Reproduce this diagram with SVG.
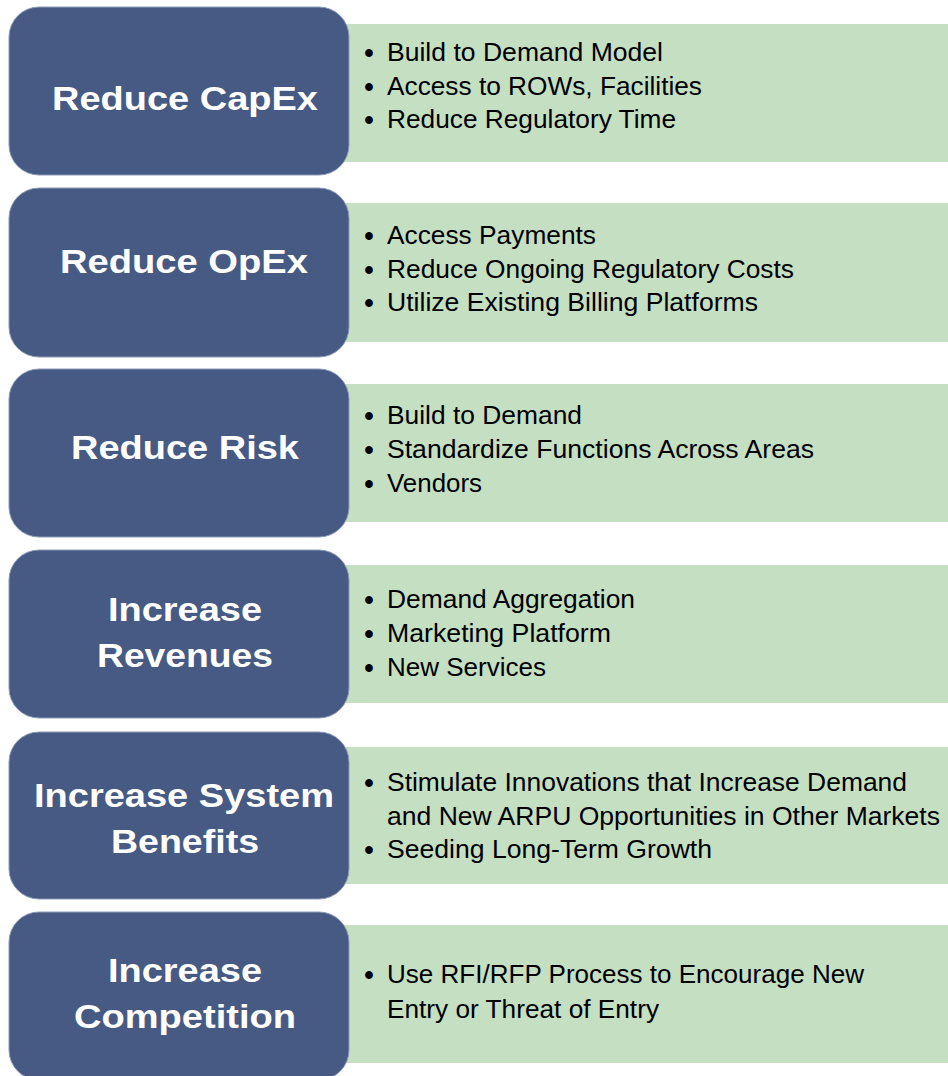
<svg xmlns="http://www.w3.org/2000/svg" width="948" height="1076" viewBox="0 0 948 1076">
<style>
.g{fill:#C5DFC3}
.b{fill:#465A83;stroke:#8D9BB8;stroke-width:1}
.t{font-family:"Liberation Sans",Arial,Helvetica,sans-serif;font-weight:bold;font-size:34px;fill:#FFFFFF;text-anchor:middle}
.l{font-family:"Liberation Sans",Arial,Helvetica,sans-serif;font-size:25px;fill:#000000}
.d{font-family:"Liberation Sans",Arial,Helvetica,sans-serif;font-size:27px;font-weight:bold;fill:#000000;text-anchor:middle}
</style>
<rect width="948" height="1076" fill="#FFFFFF"/>
<g id="row1">
<rect class="g" x="340" y="24" width="608" height="138"/>
<rect class="b" x="9" y="7" width="340" height="168" rx="30"/>
<text class="t" x="185" y="110" textLength="266" lengthAdjust="spacingAndGlyphs">Reduce CapEx</text>
<text class="d" x="369" y="62">•</text><text class="l" x="387" y="61" textLength="276" lengthAdjust="spacingAndGlyphs">Build to Demand Model</text>
<text class="d" x="369" y="96">•</text><text class="l" x="387" y="95" textLength="315" lengthAdjust="spacingAndGlyphs">Access to ROWs, Facilities</text>
<text class="d" x="369" y="129">•</text><text class="l" x="387" y="128" textLength="289" lengthAdjust="spacingAndGlyphs">Reduce Regulatory Time</text>
</g>
<g id="row2">
<rect class="g" x="340" y="203" width="608" height="139"/>
<rect class="b" x="9" y="188" width="340" height="169" rx="30"/>
<text class="t" x="184" y="273" textLength="248" lengthAdjust="spacingAndGlyphs">Reduce OpEx</text>
<text class="d" x="369" y="245">•</text><text class="l" x="387" y="244" textLength="209" lengthAdjust="spacingAndGlyphs">Access Payments</text>
<text class="d" x="369" y="279">•</text><text class="l" x="387" y="278" textLength="407" lengthAdjust="spacingAndGlyphs">Reduce Ongoing Regulatory Costs</text>
<text class="d" x="369" y="312">•</text><text class="l" x="387" y="311" textLength="371" lengthAdjust="spacingAndGlyphs">Utilize Existing Billing Platforms</text>
</g>
<g id="row3">
<rect class="g" x="340" y="384" width="608" height="138"/>
<rect class="b" x="9" y="369" width="340" height="168" rx="30"/>
<text class="t" x="185" y="459" textLength="228" lengthAdjust="spacingAndGlyphs">Reduce Risk</text>
<text class="d" x="369" y="425">•</text><text class="l" x="387" y="424" textLength="195" lengthAdjust="spacingAndGlyphs">Build to Demand</text>
<text class="d" x="369" y="459">•</text><text class="l" x="387" y="458" textLength="427" lengthAdjust="spacingAndGlyphs">Standardize Functions Across Areas</text>
<text class="d" x="369" y="493">•</text><text class="l" x="387" y="492" textLength="95" lengthAdjust="spacingAndGlyphs">Vendors</text>
</g>
<g id="row4">
<rect class="g" x="340" y="565" width="608" height="138"/>
<rect class="b" x="9" y="550" width="340" height="168" rx="30"/>
<text class="t" x="185" y="621" textLength="154" lengthAdjust="spacingAndGlyphs">Increase</text>
<text class="t" x="185" y="667" textLength="176" lengthAdjust="spacingAndGlyphs">Revenues</text>
<text class="d" x="369" y="609">•</text><text class="l" x="387" y="608" textLength="248" lengthAdjust="spacingAndGlyphs">Demand Aggregation</text>
<text class="d" x="369" y="643">•</text><text class="l" x="387" y="642" textLength="224" lengthAdjust="spacingAndGlyphs">Marketing Platform</text>
<text class="d" x="369" y="677">•</text><text class="l" x="387" y="676" textLength="159" lengthAdjust="spacingAndGlyphs">New Services</text>
</g>
<g id="row5">
<rect class="g" x="340" y="747" width="608" height="137"/>
<rect class="b" x="9" y="732" width="340" height="167" rx="30"/>
<text class="t" x="184" y="807" textLength="300" lengthAdjust="spacingAndGlyphs">Increase System</text>
<text class="t" x="185" y="853" textLength="148" lengthAdjust="spacingAndGlyphs">Benefits</text>
<text class="d" x="369" y="792">•</text><text class="l" x="387" y="791" textLength="520" lengthAdjust="spacingAndGlyphs">Stimulate Innovations that Increase Demand</text>
<text class="l" x="387" y="825" textLength="553" lengthAdjust="spacingAndGlyphs">and New ARPU Opportunities in Other Markets</text>
<text class="d" x="369" y="859">•</text><text class="l" x="387" y="858" textLength="325" lengthAdjust="spacingAndGlyphs">Seeding Long-Term Growth</text>
</g>
<g id="row6">
<rect class="g" x="340" y="925" width="608" height="138"/>
<rect class="b" x="9" y="912" width="340" height="168" rx="30"/>
<text class="t" x="185" y="982" textLength="154" lengthAdjust="spacingAndGlyphs">Increase</text>
<text class="t" x="185" y="1028" textLength="222" lengthAdjust="spacingAndGlyphs">Competition</text>
<text class="d" x="369" y="984">•</text><text class="l" x="387" y="983" textLength="477" lengthAdjust="spacingAndGlyphs">Use RFI/RFP Process to Encourage New</text>
<text class="l" x="387" y="1018" textLength="272" lengthAdjust="spacingAndGlyphs">Entry or Threat of Entry</text>
</g>
<g id="connectors"/>
</svg>
